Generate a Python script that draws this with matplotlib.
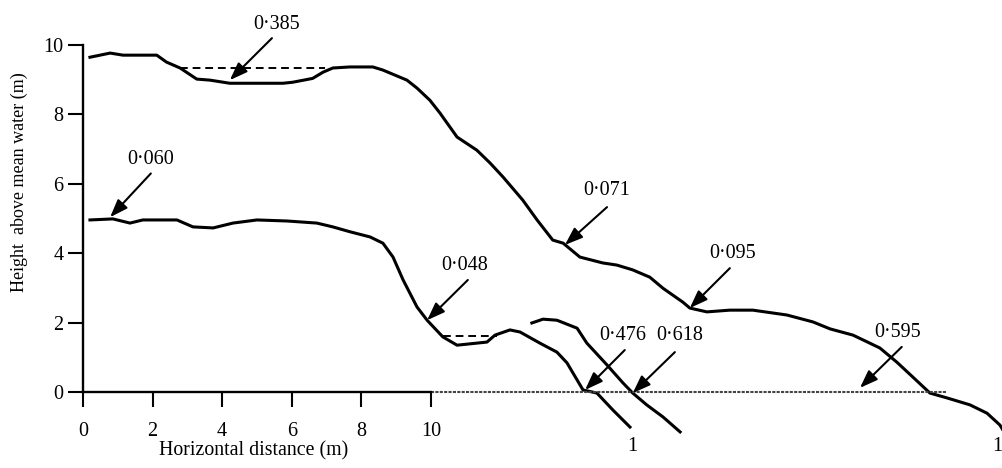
import matplotlib
matplotlib.use("Agg")
import matplotlib.pyplot as plt

plt.rcParams['font.family'] = ['Liberation Serif', 'DejaVu Serif']

# Upper profile
upper_x = [0.2, 0.78, 1.15, 2.12, 2.4, 2.79, 3.27, 3.65, 4.22, 5.75, 6.03, 6.6, 6.9, 7.18, 7.67,
           8.33, 8.62, 9.31, 9.6, 9.97, 10.26, 10.75, 11.32, 11.7, 12.07, 12.64, 13.05, 13.5,
           13.8, 14.28, 14.94, 15.34, 15.8, 16.29, 16.67, 17.24, 17.44,
           17.93, 18.59, 19.25, 20.23, 20.98, 21.47, 22.13, 22.9, 23.39, 23.85, 24.34, 24.83,
           25.49, 25.98, 26.35, 26.44]
upper_y = [9.65, 9.77, 9.71, 9.71, 9.51, 9.34, 9.02, 8.99, 8.9, 8.9, 8.93, 9.04, 9.22, 9.34, 9.37,
           9.37, 9.28, 8.99, 8.76, 8.41, 8.04, 7.35, 6.97, 6.6, 6.2, 5.53, 4.96, 4.38,
           4.29, 3.89, 3.72, 3.66, 3.52, 3.31, 2.99, 2.59, 2.42,
           2.31, 2.36, 2.36, 2.22, 2.02, 1.82, 1.64, 1.27, 0.86, 0.43, -0.03, -0.17,
           -0.37, -0.61, -0.95, -1.1]

# Lower profile
lower_x = [0.2, 0.86, 1.35, 1.72, 2.7, 3.16, 3.74, 4.31, 5.0, 5.86, 6.72, 7.18, 7.67,
           8.25, 8.62, 8.91, 9.2, 9.6, 9.89, 10.34, 10.75, 11.61, 11.84, 12.27, 12.56,
           13.13, 13.62, 13.91, 14.37, 14.77, 15.23, 15.72]
lower_y = [4.96, 4.99, 4.87, 4.96, 4.96, 4.76, 4.73, 4.87, 4.96, 4.93, 4.87, 4.76, 4.62,
           4.47, 4.29, 3.89, 3.23, 2.45, 2.07, 1.59, 1.35, 1.44, 1.64, 1.79, 1.73,
           1.41, 1.15, 0.84, 0.06, -0.03, -0.52, -1.01]

# Third profile
third_x = [12.9, 13.22, 13.62, 14.2, 14.48, 15.06, 15.52, 15.8, 16.2, 16.67, 17.16]
third_y = [1.99, 2.1, 2.07, 1.84, 1.41, 0.78, 0.26, -0.03, -0.37, -0.72, -1.15]

# Dashed water levels
dash_upper_x = [2.79, 6.95]
dash_upper_y = [9.34, 9.34]
dash_lower_x = [10.34, 11.9]
dash_lower_y = [1.61, 1.61]

# Mean water line extension
zero_x = [10.0, 24.83]
zero_y = [0.0, 0.0]

# Annotations: label, label position, arrow tail, arrow tip
ann_labels = ['0·060', '0·385', '0·071', '0·048', '0·476', '0·618', '0·095', '0·595']
ann_text_xy = [(1.93, 6.69), (5.57, 10.58), (15.06, 5.82), (10.98, 3.66),
               (15.52, 1.64), (17.16, 1.64), (18.68, 4.0), (23.42, 1.73)]
ann_tail = [(1.95, 6.3), (5.43, 10.2), (15.06, 5.33), (11.06, 3.23),
            (15.57, 1.21), (17.01, 1.15), (18.59, 3.57), (23.53, 1.3)]
ann_tip = [(0.78, 5.04), (4.22, 8.99), (13.85, 4.24), (9.89, 2.07),
           (14.43, 0.06), (15.8, -0.03), (17.44, 2.42), (22.33, 0.12)]

xticks = [0, 2, 4, 6, 8, 10]
yticks = [0, 2, 4, 6, 8, 10]

fig = plt.figure(figsize=(10.03, 4.68), dpi=100)
ax = fig.add_axes([0, 0, 1, 1])
ax.set_xlim(-2.385, 26.44)
ax.set_ylim(-2.19, 11.30)

for s in ['top', 'right']:
    ax.spines[s].set_visible(False)
ax.spines['left'].set_position(('data', 0))
ax.spines['bottom'].set_position(('data', 0))
ax.spines['left'].set_bounds(0, 10)
ax.spines['bottom'].set_bounds(0, 10)
ax.spines['left'].set_linewidth(1.7)
ax.spines['bottom'].set_linewidth(1.7)

ax.set_xticks(xticks)
ax.set_yticks(yticks)
ax.tick_params(axis='both', direction='out', length=10.8, width=1.5, labelsize=14.5)
ax.tick_params(axis='x', pad=10.5)
ax.tick_params(axis='y', pad=3.4)

ax.plot(upper_x, upper_y, color='black', lw=2.2, solid_joinstyle='round', clip_on=False)
ax.plot(lower_x, lower_y, color='black', lw=2.2, solid_joinstyle='round')
ax.plot(third_x, third_y, color='black', lw=2.2, solid_joinstyle='round')
ax.plot(dash_upper_x, dash_upper_y, color='black', lw=1.4, ls=(0, (4, 2.5)))
ax.plot(dash_lower_x, dash_lower_y, color='black', lw=1.4, ls=(0, (4, 2.5)))
ax.plot(zero_x, zero_y, color='#444444', lw=1.5, ls=(0, (1.5, 0.6)))

for lab, txy, tail, tip in zip(ann_labels, ann_text_xy, ann_tail, ann_tip):
    ax.text(txy[0], txy[1], lab, ha='center', va='center', fontsize=14.5)
    ax.annotate('', xy=tip, xytext=tail,
                arrowprops=dict(arrowstyle='-|>,head_length=0.6,head_width=0.22',
                                color='black', lw=1.5, shrinkA=0, shrinkB=0,
                                mutation_scale=18))

ax.text(15.78, -1.58, '1', ha='center', va='center', fontsize=14.5)
ax.text(26.28, -1.58, '1', ha='center', va='center', fontsize=14.5)

ax.text(4.89, -1.70, 'Horizontal distance (m)', ha='center', va='center', fontsize=14.3)
ax.text(-1.82, 6.05, 'Height  above mean water (m)', ha='center', va='center',
        rotation=90, fontsize=13)

fig.savefig('out.png', dpi=100)
